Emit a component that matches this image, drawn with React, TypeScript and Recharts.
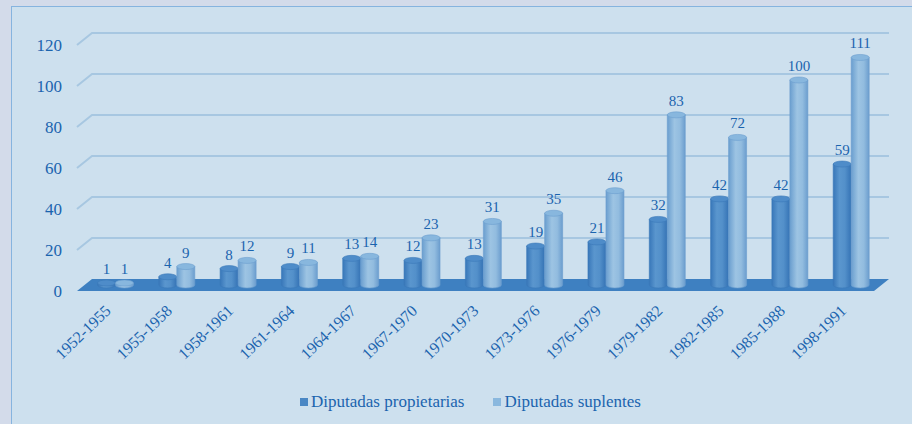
import React from 'react';
import { Bar, BarChart, CartesianGrid, LabelList, Legend, XAxis, YAxis } from 'recharts';

const periods = [
  '1952-1955', '1955-1958', '1958-1961', '1961-1964', '1964-1967', '1967-1970', '1970-1973',
  '1973-1976', '1976-1979', '1979-1982', '1982-1985', '1985-1988', '1998-1991',
];
const propietarias = [1, 4, 8, 9, 13, 12, 13, 19, 21, 32, 42, 42, 59];
const suplentes = [1, 9, 12, 11, 14, 23, 31, 35, 46, 83, 72, 100, 111];
const yTicks = [0, 20, 40, 60, 80, 100, 120];

const data = periods.map((period, i) => ({
  period,
  propietarias: propietarias[i],
  suplentes: suplentes[i],
}));

// pseudo 3d: bars stand halfway into the floor, front edge of floor is further out
const DEPTH_X = 15;
const DEPTH_Y = 12;
const MID_X = -7.5;
const MID_Y = 6;

const TEXT = '#1b64ae';
const FONT = 'Liberation Serif';

const Cylinder = (props: any) => {
  const { x, y, width, height, gradId, topFill, edge } = props;
  if (x == null || y == null) return null;
  const cx = x + MID_X;
  const top = y + MID_Y;
  const bottom = y + height + MID_Y;
  const rx = width / 2;
  const ry = 3;
  const body = `M${cx},${top} L${cx},${bottom} A${rx},${ry} 0 0 0 ${cx + width},${bottom} L${cx + width},${top} Z`;
  return (
    <g>
      <path d={body} fill={`url(#${gradId})`} stroke={edge} strokeWidth={0.6} />
      <ellipse cx={cx + rx} cy={top} rx={rx} ry={ry} fill={topFill} stroke={edge} strokeWidth={0.6} />
    </g>
  );
};

const GridLine = (props: any) => {
  const { x1, y1, x2, y, height } = props;
  if (Math.abs(y1 - (y + height)) < 1) {
    // floor slab
    const pts = `${x1 - DEPTH_X},${y1 + DEPTH_Y} ${x1},${y1} ${x2},${y1} ${x2 - DEPTH_X},${y1 + DEPTH_Y}`;
    return <polygon points={pts} fill="#3e80c1" />;
  }
  return (
    <path
      d={`M${x1 - DEPTH_X},${y1 + DEPTH_Y} L${x1},${y1} L${x2},${y1}`}
      fill="none"
      stroke="#a7c7e1"
      strokeWidth={2}
    />
  );
};

const YTick = (props: any) => {
  const { x, y, payload } = props;
  return (
    <text x={x - 30} y={y + DEPTH_Y + 6} textAnchor="end" fill={TEXT} fontSize={17} style={{ fontFamily: FONT }}>
      {payload.value}
    </text>
  );
};

const XTick = (props: any) => {
  const { x, y, payload } = props;
  return (
    <text
      transform={`translate(${x - 11},${y + 33}) rotate(-44)`}
      textAnchor="end"
      fill={TEXT}
      fontSize={16}
      style={{ fontFamily: FONT }}
    >
      {payload.value}
    </text>
  );
};

const ValueLabel = (props: any) => {
  const { x, y, width, value } = props;
  return (
    <text
      x={x + width / 2 + MID_X}
      y={y + MID_Y - 9}
      textAnchor="middle"
      fill={TEXT}
      fontSize={15}
      style={{ fontFamily: FONT }}
    >
      {value}
    </text>
  );
};

const LegendBox = () => (
  <div
    style={{
      height: 24,
      display: 'flex',
      justifyContent: 'center',
      alignItems: 'center',
      fontFamily: FONT,
      fontSize: 17,
      color: TEXT,
      paddingLeft: 20,
    }}
  >
    <span style={{ display: 'inline-block', width: 8, height: 8, background: '#4a87c4', marginRight: 3 }} />
    <span style={{ marginRight: 29 }}>Diputadas propietarias</span>
    <span style={{ display: 'inline-block', width: 8, height: 8, background: '#8ab8de', marginRight: 3 }} />
    <span>Diputadas suplentes</span>
  </div>
);

export default function App() {
  return (
    <div style={{ position: 'fixed', left: 0, top: 0, width: 912, height: 424, background: '#d3dbea', overflow: 'hidden', fontFamily: FONT }}>
      <div
        style={{
          position: 'absolute',
          left: 11,
          top: 6,
          width: 920,
          height: 440,
          background: '#cde0ee',
          border: '1px solid #86b4df',
        }}
      />
      <div style={{ position: 'absolute', left: 0, top: 0 }}>
        <BarChart
          width={912}
          height={424}
          data={data}
          margin={{ top: 33, right: 23, left: 32, bottom: 10 }}
          barSize={18}
          barGap={0}
          barCategoryGap="20%"
        >
          <defs>
            <linearGradient id="gradDark" x1="0" y1="0" x2="1" y2="0">
              <stop offset="0%" stopColor="#3877b9" />
              <stop offset="35%" stopColor="#5a96ce" />
              <stop offset="65%" stopColor="#5390ca" />
              <stop offset="100%" stopColor="#3573b5" />
            </linearGradient>
            <linearGradient id="gradLight" x1="0" y1="0" x2="1" y2="0">
              <stop offset="0%" stopColor="#6a9ecf" />
              <stop offset="40%" stopColor="#9dc4e3" />
              <stop offset="70%" stopColor="#92bcdf" />
              <stop offset="100%" stopColor="#6b9dce" />
            </linearGradient>
          </defs>
          <CartesianGrid vertical={false} horizontal={GridLine} />
          <XAxis
            dataKey="period"
            interval={0}
            tickLine={false}
            axisLine={false}
            tickSize={0}
            tickMargin={0}
            height={111}
            tick={XTick}
          />
          <YAxis
            domain={[0, 120]}
            ticks={yTicks}
            interval={0}
            tickLine={false}
            axisLine={false}
            tickSize={0}
            tickMargin={0}
            width={60}
            tick={YTick}
          />
          <Legend verticalAlign="bottom" content={LegendBox} />
          <Bar
            dataKey="propietarias"
            name="Diputadas propietarias"
            isAnimationActive={false}
            shape={(p: any) => <Cylinder {...p} gradId="gradDark" topFill="#4e8cc9" edge="#3a78b8" />}
          >
            <LabelList dataKey="propietarias" content={ValueLabel} />
          </Bar>
          <Bar
            dataKey="suplentes"
            name="Diputadas suplentes"
            isAnimationActive={false}
            shape={(p: any) => <Cylinder {...p} gradId="gradLight" topFill="#88b7de" edge="#6c9ecf" />}
          >
            <LabelList dataKey="suplentes" content={ValueLabel} />
          </Bar>
        </BarChart>
      </div>
    </div>
  );
}
